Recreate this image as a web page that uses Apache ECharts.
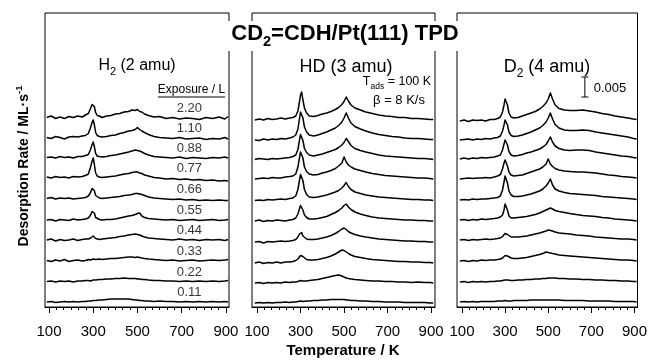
<!DOCTYPE html>
<html>
<head>
<meta charset="utf-8">
<script src="https://cdn.jsdelivr.net/npm/echarts@6/dist/echarts.min.js"></script>
<style>
  html, body { margin: 0; padding: 0; background: #fff; }
  #chart { width: 650px; height: 361px; }
</style>
</head>
<body>
<div id="chart"></div>
<script>
// temperatures (K) at which every trace is sampled
const TEMPS = [90,110,130,150,170,190,210,230,250,265,
  278,288,295,300,305,311,318,328,340,360,
  380,400,420,440,460,475,490,500,510,520,
  532,550,575,600,630,660,690,720,750,780,
  810,840,870,895,910];

const EXPOSURES = ['2.20','1.10','0.88','0.77','0.66','0.55','0.44','0.33','0.22','0.11'];
const TICK_LABELS = [100, 300, 500, 700, 900];

// signal units: 20 units = 0.005 ML/s ; offsets = vertical stacking of each exposure
const H2_OFFSETS = [189.5,169.5,149.5,129,108.5,87,67,46.5,25.5,5];
const HD_OFFSETS = [187,167,147.5,128,106.5,86,65,44,24,4];
const D2_OFFSETS = [186,167,148,128,107,87,67,46,25,5];

// H2 (2 amu)
const H2_220 = [0,1.5,-1,0.5,-1,1,0,1.5,0.5,2.5, 4,9,13,15,11,5,2,1.5,0,1.5, 2,3.5,4,5.5,6,7.5,7,8,6,5.5, 3.5,2,0.5,1,-1,0,-1.5,-0.5,-1,-2, 0,-1,0.5,-1.5,1];
const H2_110 = [0,-1,1,0,-1.5,0.5,1,0.5,1.5,2, 4,10,15,17.5,13,5,2,1,0.5,1, 2,2.5,4,5,6.5,7,8,10,8,6.5, 5,3,1,0,-0.5,-1,0,-1.5,-1,-0.5, -2,-1,-1.5,0,-1.5];
const H2_088 = [0,0.5,-0.5,1,0,0.5,-0.5,1,1,2, 3,8,13,15.5,11,4,1.5,1,0.5,1, 2,2.5,3.5,4.5,5.5,6.5,7.5,7,6.5,5.5, 4,2.5,1,0.5,0,-0.5,0.5,-1,0,-0.5, -1,0,-0.5,0.5,-0.5];
const H2_077 = [1,0,1.5,0.5,1,0,1.5,1,1.5,2.5, 4,11,17,20,14,5,2,1,0.5,1, 1.5,2,3,4,4.5,5.5,6,6,5,4.5, 3,2,0.5,0,-1,-0.5,-1.5,-1,-2,-1.5, -2.5,-2,-3,-2.5,-3];
const H2_066 = [0,1,-0.5,0.5,0,0.5,-0.5,0,0.5,1, 2.5,6,10,11.5,8,3,1,0.5,0,0.5, 1,1.5,2,3,3.5,4,5,5,4.5,4, 3,1.5,0.5,0,-0.5,-1,-0.5,-1.5,-1,-2, -1.5,-2,-1.5,-2,-2];
const H2_055 = [0,0.5,-1,0.5,0,-0.5,1,0,0.5,1, 2,5,8.5,10,7,2.5,1,0.5,0,0.5, 0.5,1,2,3,4,4.5,5.5,6.5,7,4, 2.5,1.5,1,0.5,0,0.5,-0.5,0,0.5,-0.5, 0,0.5,-0.5,0,0.5];
const H2_044 = [0,1,-1,0.5,-0.5,0,1,-0.5,0.5,1, 1,2,3,4,3,1.5,1,0.5,1,1.5, 2,2.5,3.5,4,5,5.5,6,5.5,5,4, 3,2,1.5,1,0.5,0,1,0,0.5,-0.5, 0.5,0,0.5,-0.5,0.5];
const H2_033 = [0,-1,0.5,-0.5,1,-1,0,0.5,-0.5,0, 1,0.5,1,1.5,1,1,0.5,1.5,1,1.5, 2,2,2.5,3,3.5,3.5,3,3.5,3,2.5, 2,1.5,1,0.5,0,0.5,-0.5,0,0.5,-0.5, 0,0.5,0,0.5,1];
const H2_022 = [0,0.5,-0.5,0.5,0,0.5,-0.5,0.5,0.5,1, 1,0.5,1,1.5,1,1.5,1,2,2,2.5, 2.5,3,3,3.5,3,3,3,2.5,2.5,2, 2,1.5,1,1,0.5,0.5,0,0.5,0,0.5, 0,0.5,0,0.5,1];
const H2_011 = [0,0.5,-0.5,0,0.5,0,0.5,0,0.5,0.5, 1,1,1,1.5,1,1.5,1.5,2,2,2.5, 3,3,3,3,3,2.5,2,2,1.5,1.5, 1,1,0.5,1,0.5,0.5,0,0.5,0,0.5, 0,0.5,0,0.5,0];

// HD (3 amu)
const HD_220 = [0,1,0,1.5,0.5,1,2,1,2,2.5, 4,9,18,25,28,20,12,7,4,3.5, 4.5,6,7,8.5,10.5,12.5,15.5,18.5,23,19, 15,12,10,8,6.5,5,4,3.5,2.5,2.5, 1.5,1.5,1,0.5,0.5];
const HD_110 = [0,-0.5,1,0,1,0.5,1.5,1,2,3, 5,11,21,28,30,22,13,8,5,4, 5,6.5,8,10,12,14.5,18,22,27,22, 17,13.5,11,9,7,5.5,4.5,3.5,3,2, 1.5,1.5,1,0.5,0.5];
const HD_088 = [0,1,0.5,0,1,0.5,1,1.5,2,3, 4.5,10,19,25,27,19,11,7,4.5,3.5, 4.5,5.5,7,8.5,10,12,14.5,17,21,18, 14,11,9,7.5,6,4.5,3.5,3,2.5,2, 1.5,1,1,0.5,0];
const HD_077 = [0,0.5,1,0.5,1.5,1,1,2,2.5,3, 5,12,21,27,29,21,12,7.5,5,4, 4.5,6,7,8.5,10.5,13,16,22,17,14, 12,10,8.5,7,5.5,4.5,3.5,3,2.5,2, 1.5,1,1,0.5,0];
const HD_066 = [0,0.5,0,1,0.5,1,1.5,1,2,2.5, 4.5,11,20,26,28,20,11,6,3.5,3, 3.5,4.5,5.5,7,8.5,10,12.5,15,18,14, 11,8.5,7,5.5,4.5,3.5,3,2.5,2,1.5, 1,1,0.5,0.5,0];
const HD_055 = [0,1,-0.5,0.5,0,1,0.5,0,1,1.5, 3,7,12,15.5,16.5,11,6,3.5,2,2, 2.5,3.5,4.5,6.5,8.5,10.5,13,15.5,17,14, 11.5,9,7,5.5,4,3,2.5,2,1.5,1, 1,0.5,0.5,0,0];
const HD_044 = [0,0.5,-1,0.5,0,0.5,1,0.5,1,1.5, 2.5,5,8,10,9.5,6,4,3,2.5,2.5, 3,4,5,6.5,8.5,10.5,13,14,12.5,10.5, 9,7.5,6,5,4,3,2.5,2,1.5,1, 1,0.5,0.5,0,0];
const HD_033 = [0,1,-0.5,0.5,0,1,0,1,1,1.5, 2.5,4,6,7.5,8,6.5,4.5,3.5,3,3, 3.5,4.5,5.5,7,9,11,13,12.5,11,9.5, 8,6.5,5.5,4.5,3.5,3,2.5,2,1.5,1.5, 1,1,0.5,0.5,0];
const HD_022 = [0,0.5,-0.5,0.5,0,0.5,0,1,0.5,1, 1,1.5,2,2.5,2.5,2,2,2,2.5,3, 3.5,4.5,5.5,6.5,7.5,8,7,6,5,4.5, 4,3.5,3,2.5,2,2,1.5,1.5,1,1, 0.5,1,0.5,0.5,0];
const HD_011 = [0,0.5,0,0.5,0,0.5,0.5,1,0.5,1, 1,1.5,1.5,2,2,1.5,1.5,2,2,2.5, 2.5,3,3,3.5,3.5,3.5,3.5,3.5,3,3, 2.5,2.5,2,2,1.5,1.5,1,1,1,0.5, 0.5,0.5,0.5,0,0];

// D2 (4 amu)
const D2_220 = [0,1,-0.5,1,0.5,1,0,1.5,1.5,2.5, 4,9,16,22,24,16,8,4,3,3.5, 5,6.5,8,9.5,12,14.5,18,22,28,22, 16,12.5,11,10.5,10.5,11,10,9,7.5,6.5, 5,4,3,2,1.5];
const D2_110 = [0,0.5,1,0,1,0.5,1.5,1,2,2.5, 4,9,15,20,22,15,8,4.5,3.5,4, 5,6.5,8,10,12,14.5,18,22,27,21, 15.5,12,10,9.5,9.5,10,9.5,8,7,6, 5,4,3,1.5,1];
const D2_088 = [0,1,0,1,0.5,1.5,1,1.5,2,3, 4,9,15,19,21,14,7.5,4,3,3.5, 4.5,6,7,8.5,10,12,14.5,18,22,17, 13,10.5,9,8.5,9,9,8.5,7,6,5, 4,3,2.5,1.5,1];
const D2_077 = [0,0.5,1,0.5,1,1,1.5,1,2,3, 4.5,10,16,19,20,13,7,4,3,3.5, 4,5.5,7,8.5,10,12,15,20,15,12.5, 10.5,9,8,7.5,7,7,6.5,6,5,4, 3.5,2.5,2,1.5,1];
const D2_066 = [0,0.5,0,1,0.5,1,1,1.5,2,2.5, 4,10,18,24,26,17,9,5,3.5,3.5, 4,5,6,7.5,9,11,14,17,21,15, 11,9,7.5,6.5,6,5.5,5,4.5,3.5,3, 2.5,2,1.5,1,0.5];
const D2_055 = [0,0.5,-0.5,0.5,0,1,0.5,1,1.5,2, 3,5,10,16,18,10,4,2,2,2.5, 3,3.5,4.5,5.5,7,8.5,10,11,12,11, 9.5,8.5,7.5,6.5,5.5,4.5,4,3.5,2.5,2, 1,0.5,0,-0.5,-1];
const D2_044 = [0,0.5,-0.5,0.5,0,0.5,1,0.5,1,1.5, 2,3.5,5,6.5,7,5.5,4,3,3,3, 3.5,4,5,6,7,8,9,10,9.5,9, 8,7,6.5,6,5,4.5,4,3,2.5,2, 1.5,1,1,0.5,0];
const D2_033 = [0,0.5,-0.5,0.5,0,1,0.5,1,1,1.5, 2,3,5,5.5,6,5,3.5,3,2.5,2.5, 3,3.5,4.5,5.5,6.5,7.5,9,8.5,8,7.5, 7,6,5.5,5,4.5,4,3.5,3,2.5,2, 1.5,1,1,0.5,0];
const D2_022 = [0,0.5,-0.5,0.5,0,0.5,0,0.5,0.5,1, 1,1.5,1.5,2,2,2,1.5,1.5,1.5,2, 2,2.5,2.5,3,3,3.5,3.5,4,4,4, 4,3.5,3.5,3,3,2.5,2.5,2,2,1.5, 1.5,1,1,0.5,0.5];
const D2_011 = [0,0.5,0,0.5,0,0.5,0.5,0.5,0.5,1, 1,1,1,1.5,1.5,1,1,1,1.5,1.5, 1.5,1.5,2,2,2,2,2,2,2,2, 2,2,1.5,1.5,1.5,1.5,1,1,1,1, 0.5,0.5,0.5,0.5,0];

const H2_TRACES = [H2_220,H2_110,H2_088,H2_077,H2_066,H2_055,H2_044,H2_033,H2_022,H2_011];
const HD_TRACES = [HD_220,HD_110,HD_088,HD_077,HD_066,HD_055,HD_044,HD_033,HD_022,HD_011];
const D2_TRACES = [D2_220,D2_110,D2_088,D2_077,D2_066,D2_055,D2_044,D2_033,D2_022,D2_011];

// scale bar: 20 signal units = 0.005 ML/s
const SCALE_BAR = { temp: 670, from: 210, span: 20, label: '0.005' };
const EXPOSURE_LABEL_TEMP = 735;

const FONT = '"Liberation Sans", Arial, Helvetica, sans-serif';
const chart = echarts.init(document.getElementById('chart'));

const panels = [
  { left: 45,  width: 184, min: 82, max: 914, offsets: H2_OFFSETS, traces: H2_TRACES },
  { left: 252, width: 183, min: 77, max: 918, offsets: HD_OFFSETS, traces: HD_TRACES },
  { left: 457, width: 182, min: 77, max: 914, offsets: D2_OFFSETS, traces: D2_TRACES }
];

const minorTicks = [];
for (let t = 100; t <= 900.01; t += 200 / 6) minorTicks.push(Math.round(t * 10) / 10);

const grid = [], xAxis = [], yAxis = [], series = [];
panels.forEach((p, i) => {
  grid.push({ left: p.left, top: 13, width: p.width, height: 294, show: true,
    borderColor: '#000', borderWidth: 1, backgroundColor: 'transparent' });
  xAxis.push({
    type: 'value', gridIndex: i, min: p.min, max: p.max,
    axisLine: { show: true, lineStyle: { color: '#000', width: 1 } },
    axisTick: { show: true, customValues: TICK_LABELS, length: 6, lineStyle: { color: '#000' } },
    axisLabel: { customValues: TICK_LABELS, color: '#000', fontSize: 15, fontFamily: FONT, margin: 17 },
    splitLine: { show: false }
  });
  xAxis.push({
    type: 'value', gridIndex: i, min: p.min, max: p.max, position: 'bottom',
    axisLine: { show: false },
    axisTick: { show: true, customValues: minorTicks, length: 3, lineStyle: { color: '#000' } },
    axisLabel: { show: false },
    splitLine: { show: false }
  });
  yAxis.push({ type: 'value', gridIndex: i, min: 0, max: 294, show: false });
  p.traces.forEach((vals, k) => {
    series.push({
      type: 'line', xAxisIndex: i * 2, yAxisIndex: i, symbol: 'none', silent: true,
      lineStyle: { color: '#000', width: 1.5, join: 'round' },
      data: TEMPS.map((t, j) => [t, p.offsets[k] + vals[j]])
    });
  });
});

series.push({
  type: 'scatter', xAxisIndex: 0, yAxisIndex: 0, symbolSize: 1, silent: true,
  itemStyle: { color: 'transparent' },
  label: { show: true, position: 'inside', formatter: '{b}', color: '#000', fontSize: 13, fontFamily: FONT },
  data: EXPOSURES.map((e, k) => ({ name: e, value: [EXPOSURE_LABEL_TEMP, H2_OFFSETS[k] + 9.5] }))
});

series.push({
  type: 'line', xAxisIndex: 4, yAxisIndex: 2, silent: true,
  symbol: 'rect', symbolSize: [7, 1], showSymbol: true,
  itemStyle: { color: '#000' }, lineStyle: { color: '#000', width: 1 },
  data: [[SCALE_BAR.temp, SCALE_BAR.from], [SCALE_BAR.temp, SCALE_BAR.from + SCALE_BAR.span]]
});

// text with sub/superscripts: pieces laid out side by side, widths measured on a canvas
const measureCtx = document.createElement('canvas').getContext('2d');
function label(x, y, pieces, rotation) {
  // pieces: [text, fontSize, bold, dy]
  let widths = pieces.map(([t, fs, bold]) => {
    measureCtx.font = (bold ? 'bold ' : '') + fs + 'px "Liberation Sans"';
    return measureCtx.measureText(t).width;
  });
  const total = widths.reduce((a, b) => a + b, 0);
  let cx = -total / 2;
  const children = pieces.map(([t, fs, bold, dy], i) => {
    const el = { type: 'text', x: cx, y: dy || 0, z: 110,
      style: { text: t, fontSize: fs, fontWeight: bold ? 'bold' : 'normal', fontFamily: FONT,
        fill: '#000', align: 'left', verticalAlign: 'middle' } };
    cx += widths[i];
    return el;
  });
  return { type: 'group', x: x, y: y, rotation: rotation || 0, z: 110, children: children };
}

const graphic = [
  { type: 'rect', z: 100, shape: { x: 226, y: 21, width: 236, height: 30 }, style: { fill: '#fff' } },
  label(345, 33.5, [['CD', 22, true], ['2', 14.5, true, 8], ['=CDH/Pt(111) TPD', 22, true]]),
  label(137, 66, [['H', 16], ['2', 11, false, 6], [' (2 amu)', 16]]),
  label(346, 67, [['HD (3 amu)', 18]]),
  label(547, 67, [['D', 18], ['2', 12, false, 6.5], [' (4 amu)', 18]]),
  label(191.5, 90, [['Exposure / L', 12]]),
  { type: 'line', z: 101, shape: { x1: 158, y1: 97, x2: 225, y2: 97 }, style: { stroke: '#000', lineWidth: 1 } },
  label(397, 82, [['T', 12.5], ['ads', 8.5, false, 4.5], [' = 100 K', 12.5]]),
  label(399, 100, [['β = 8 K/s', 13]]),
  label(610, 88, [[SCALE_BAR.label, 13]]),
  label(343, 351, [['Temperature / K', 15, true]]),
  label(24, 166, [['Desorption Rate / ML·s', 14, true], ['-1', 9.5, true, -5]], Math.PI / 2)
];

chart.setOption({
  animation: false,
  backgroundColor: '#fff',
  grid: grid,
  xAxis: xAxis,
  yAxis: yAxis,
  series: series,
  graphic: graphic
});
</script>
</body>
</html>
